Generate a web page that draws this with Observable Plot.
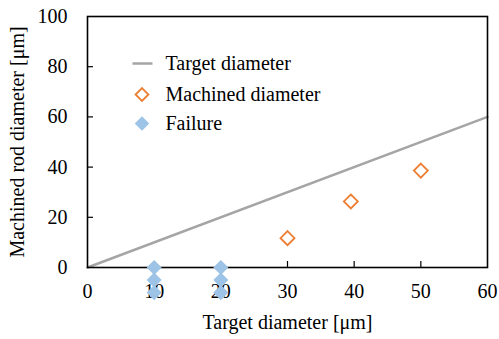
<!DOCTYPE html>
<html><head><meta charset="utf-8">
<script src="https://cdn.jsdelivr.net/npm/d3@7"></script>
<script src="https://cdn.jsdelivr.net/npm/@observablehq/plot@0.6"></script>
<style>body{margin:0;background:#fff}</style>
</head><body><div id="chart"></div>
<script>
const targetX = [0, 60];
const targetY = [0, 60];
const machinedX = [30, 39.5, 50];
const machinedY = [11.7, 26.3, 38.6];
const failureX = [10, 10, 10, 20, 20, 20];
const failureY = [0, -5, -10, 0, -5, -10];
const xTicks = [0, 10, 20, 30, 40, 50, 60];
const yTicks = [0, 20, 40, 60, 80, 100];
const legendLabels = ["Target diameter", "Machined diameter", "Failure"];

const GRAY = "#a5a5a5", ORANGE = "#ed7d31", BLUE = "#9dc3e6";
const target = targetX.map((x, i) => ({x, y: targetY[i]}));
const machined = machinedX.map((x, i) => ({x, y: machinedY[i]}));
const failure = failureX.map((x, i) => ({x, y: failureY[i]}));
const lineSymbol = {draw(ctx) { ctx.moveTo(-10, 0); ctx.lineTo(10, 0); }};
const legendDy = [47, 78, 107];

const chart = Plot.plot({
  width: 499, height: 339,
  marginLeft: 87, marginRight: 12, marginTop: 16, marginBottom: 72,
  style: {fontFamily: "'Liberation Serif', 'Times New Roman', serif", fontSize: "20px", color: "#000", background: "#fff"},
  x: {domain: [0, 60]},
  y: {domain: [0, 100]},
  marks: [
    Plot.line(target, {x: "x", y: "y", stroke: GRAY, strokeWidth: 2.5}),
    Plot.ruleX(xTicks.slice(1, -1), {x: d => d, y1: 0, y2: 2.4, stroke: "#000", strokeWidth: 1.2}),
    Plot.ruleY(yTicks.slice(1, -1), {y: d => d, x1: 0, x2: 0.9, stroke: "#000", strokeWidth: 1.2}),
    Plot.frame({stroke: "#000", strokeWidth: 1.6}),
    Plot.axisX(xTicks, {tickSize: 0, tickPadding: 16, fontSize: 20, label: "Target diameter [μm]", labelAnchor: "center", labelOffset: 61, labelArrow: "none"}),
    Plot.axisY(yTicks, {tickSize: 0, tickPadding: 20, fontSize: 20, label: "Machined rod diameter [μm]", labelAnchor: "center", labelOffset: 78, labelArrow: "none"}),
    Plot.dot(machined, {x: "x", y: "y", symbol: "diamond2", r: 6.3, stroke: ORANGE, strokeWidth: 1.8, fill: "#fff"}),
    Plot.dot(failure, {x: "x", y: "y", symbol: "diamond2", r: 6.8, fill: BLUE, stroke: null}),
    Plot.dot([legendLabels[0]], {frameAnchor: "top-left", dx: 55, dy: legendDy[0], symbol: lineSymbol, stroke: GRAY, strokeWidth: 2.5, r: 5}),
    Plot.dot([legendLabels[1]], {frameAnchor: "top-left", dx: 54.5, dy: legendDy[1], symbol: "diamond2", r: 5.8, stroke: ORANGE, strokeWidth: 1.8, fill: "#fff"}),
    Plot.dot([legendLabels[2]], {frameAnchor: "top-left", dx: 54.5, dy: legendDy[2], symbol: "diamond2", r: 6.5, fill: BLUE, stroke: null}),
    ...legendLabels.map((label, i) => Plot.text([label], {frameAnchor: "top-left", dx: 78, dy: legendDy[i], text: d => d, textAnchor: "start", lineAnchor: "middle", fontSize: 20, fill: "#000"}))
  ]
});
document.getElementById("chart").appendChild(chart);
</script>
</body></html>
